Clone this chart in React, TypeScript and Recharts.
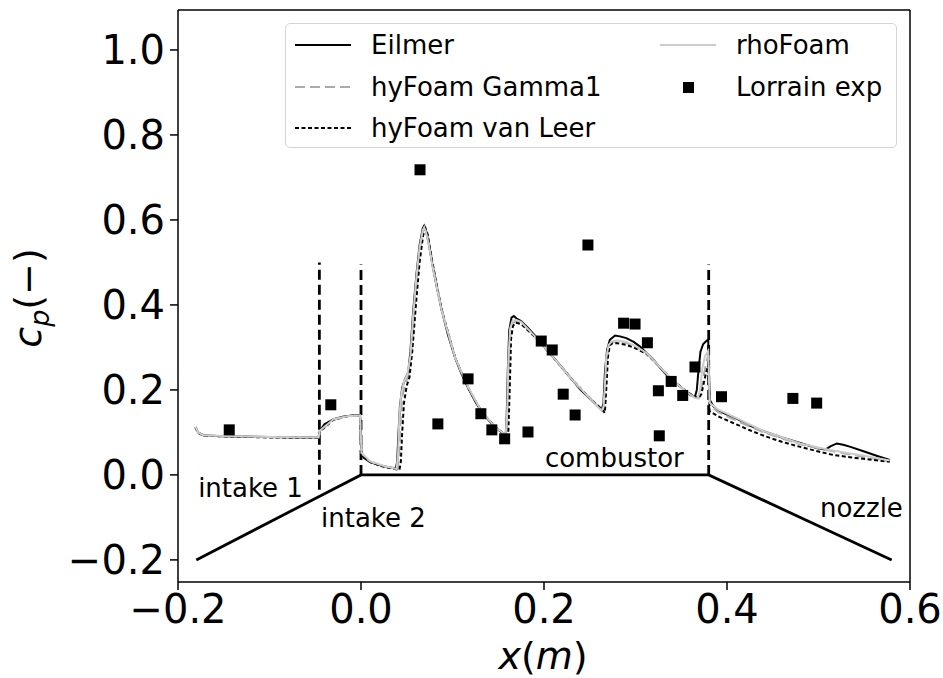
import React from 'react';
import { ComposedChart, Line, Scatter, XAxis, YAxis, ReferenceLine } from 'recharts';

// ---------------- data ----------------
const eilmerX = [-0.181, -0.178, -0.172, -0.15, -0.1, -0.06, -0.0465, -0.045, -0.04, -0.03, -0.02, -0.01, -0.001, 0.0005, 0.003, 0.01, 0.02, 0.03, 0.038, 0.0395, 0.041, 0.0425, 0.045, 0.048, 0.0515, 0.054, 0.057, 0.0605, 0.064, 0.0675, 0.069, 0.071, 0.074, 0.078, 0.083, 0.088, 0.095, 0.103, 0.11, 0.117, 0.125, 0.132, 0.14, 0.147, 0.154, 0.158, 0.159, 0.1605, 0.162, 0.1645, 0.167, 0.17, 0.175, 0.182, 0.19, 0.2, 0.21, 0.22, 0.23, 0.24, 0.25, 0.258, 0.263, 0.265, 0.2667, 0.269, 0.272, 0.2776, 0.283, 0.29, 0.298, 0.305, 0.312, 0.32, 0.327, 0.334, 0.341, 0.349, 0.355, 0.36, 0.365, 0.367, 0.369, 0.371, 0.374, 0.378, 0.3795, 0.3805, 0.3815, 0.385, 0.39, 0.4, 0.41, 0.425, 0.44, 0.46, 0.48, 0.5, 0.508, 0.513, 0.52, 0.527, 0.535, 0.55, 0.565, 0.578];
const eilmerY = [0.112, 0.1, 0.093, 0.091, 0.089, 0.088, 0.088, 0.103, 0.119, 0.131, 0.137, 0.14, 0.141, 0.05, 0.04, 0.03, 0.023, 0.018, 0.015, 0.03, 0.1, 0.16, 0.205, 0.225, 0.24, 0.29, 0.385, 0.47, 0.54, 0.58, 0.586, 0.575, 0.545, 0.495, 0.44, 0.39, 0.33, 0.275, 0.237, 0.205, 0.172, 0.148, 0.127, 0.112, 0.1, 0.094, 0.12, 0.25, 0.34, 0.37, 0.374, 0.368, 0.362, 0.347, 0.328, 0.302, 0.277, 0.252, 0.226, 0.2, 0.18, 0.163, 0.152, 0.17, 0.245, 0.295, 0.318, 0.328, 0.326, 0.322, 0.313, 0.302, 0.287, 0.27, 0.252, 0.235, 0.222, 0.208, 0.197, 0.188, 0.184, 0.2, 0.25, 0.29, 0.308, 0.316, 0.318, 0.22, 0.175, 0.162, 0.152, 0.142, 0.133, 0.116, 0.103, 0.088, 0.075, 0.062, 0.06, 0.067, 0.074, 0.071, 0.066, 0.055, 0.044, 0.035];

const gammaX = [-0.181, -0.178, -0.172, -0.1, -0.0465, -0.045, -0.03, -0.015, -0.001, 0.0005, 0.01, 0.025, 0.04, 0.0415, 0.043, 0.045, 0.048, 0.0515, 0.055, 0.058, 0.0615, 0.065, 0.068, 0.0695, 0.0715, 0.075, 0.079, 0.088, 0.103, 0.117, 0.132, 0.147, 0.158, 0.16, 0.1615, 0.1635, 0.166, 0.17, 0.175, 0.19, 0.21, 0.23, 0.25, 0.263, 0.2655, 0.267, 0.2685, 0.271, 0.275, 0.28, 0.29, 0.3, 0.312, 0.327, 0.341, 0.355, 0.365, 0.369, 0.372, 0.375, 0.378, 0.3795, 0.381, 0.39, 0.41, 0.44, 0.48, 0.51, 0.53, 0.55, 0.578];
const gammaY = [0.112, 0.1, 0.093, 0.089, 0.088, 0.103, 0.13, 0.138, 0.14, 0.051, 0.031, 0.02, 0.013, 0.04, 0.12, 0.18, 0.215, 0.232, 0.285, 0.38, 0.47, 0.54, 0.577, 0.583, 0.572, 0.54, 0.49, 0.388, 0.275, 0.206, 0.148, 0.112, 0.094, 0.12, 0.25, 0.34, 0.358, 0.362, 0.358, 0.326, 0.277, 0.226, 0.18, 0.152, 0.158, 0.2, 0.27, 0.303, 0.312, 0.314, 0.311, 0.302, 0.286, 0.253, 0.222, 0.197, 0.182, 0.18, 0.2, 0.24, 0.27, 0.28, 0.165, 0.148, 0.128, 0.1, 0.072, 0.058, 0.05, 0.042, 0.032];

const vanLeerX = [-0.181, -0.178, -0.172, -0.1, -0.0465, -0.045, -0.03, -0.015, -0.001, 0.0005, 0.01, 0.025, 0.042, 0.0435, 0.045, 0.047, 0.05, 0.053, 0.056, 0.06, 0.064, 0.068, 0.0705, 0.073, 0.078, 0.088, 0.103, 0.117, 0.132, 0.147, 0.158, 0.161, 0.1625, 0.164, 0.166, 0.169, 0.175, 0.19, 0.21, 0.23, 0.25, 0.263, 0.2665, 0.268, 0.27, 0.272, 0.275, 0.28, 0.29, 0.3, 0.312, 0.327, 0.341, 0.355, 0.365, 0.369, 0.372, 0.376, 0.3795, 0.381, 0.39, 0.407, 0.425, 0.443, 0.46, 0.48, 0.5, 0.516, 0.54, 0.56, 0.578];
const vanLeerY = [0.112, 0.099, 0.092, 0.088, 0.087, 0.102, 0.13, 0.138, 0.14, 0.05, 0.03, 0.019, 0.012, 0.03, 0.1, 0.17, 0.21, 0.23, 0.29, 0.4, 0.5, 0.565, 0.58, 0.565, 0.5, 0.39, 0.275, 0.205, 0.148, 0.112, 0.093, 0.1, 0.2, 0.32, 0.35, 0.358, 0.355, 0.325, 0.277, 0.226, 0.18, 0.155, 0.146, 0.2, 0.28, 0.305, 0.31, 0.31, 0.306, 0.298, 0.285, 0.253, 0.222, 0.197, 0.184, 0.18, 0.19, 0.23, 0.26, 0.15, 0.138, 0.122, 0.105, 0.09, 0.078, 0.066, 0.055, 0.047, 0.04, 0.035, 0.031];

const rhoX = [-0.181, -0.178, -0.172, -0.1, -0.0465, -0.045, -0.03, -0.015, -0.001, 0.0005, 0.01, 0.025, 0.039, 0.0405, 0.042, 0.044, 0.047, 0.0505, 0.054, 0.057, 0.0605, 0.064, 0.0675, 0.069, 0.071, 0.074, 0.078, 0.088, 0.103, 0.117, 0.132, 0.147, 0.158, 0.1595, 0.161, 0.163, 0.1655, 0.169, 0.175, 0.19, 0.21, 0.23, 0.25, 0.263, 0.265, 0.2665, 0.268, 0.2705, 0.274, 0.28, 0.29, 0.3, 0.312, 0.327, 0.341, 0.355, 0.365, 0.368, 0.3705, 0.373, 0.376, 0.3795, 0.381, 0.39, 0.41, 0.44, 0.48, 0.51, 0.53, 0.55, 0.578];
const rhoY = [0.113, 0.1, 0.093, 0.089, 0.088, 0.104, 0.131, 0.138, 0.14, 0.052, 0.032, 0.021, 0.014, 0.05, 0.14, 0.19, 0.22, 0.235, 0.28, 0.375, 0.465, 0.535, 0.575, 0.582, 0.572, 0.543, 0.493, 0.388, 0.275, 0.207, 0.148, 0.112, 0.094, 0.13, 0.27, 0.345, 0.362, 0.365, 0.36, 0.326, 0.277, 0.226, 0.18, 0.151, 0.16, 0.21, 0.275, 0.305, 0.314, 0.316, 0.313, 0.303, 0.287, 0.253, 0.222, 0.197, 0.181, 0.18, 0.2, 0.25, 0.28, 0.292, 0.17, 0.154, 0.134, 0.103, 0.074, 0.06, 0.052, 0.045, 0.034];

const expX = [-0.144, -0.033, 0.0645, 0.084, 0.117, 0.131, 0.143, 0.157, 0.1825, 0.197, 0.209, 0.221, 0.234, 0.248, 0.287, 0.2995, 0.313, 0.365, 0.339, 0.325, 0.3516, 0.326, 0.394, 0.472, 0.498];
const expY = [0.106, 0.165, 0.718, 0.12, 0.226, 0.144, 0.106, 0.085, 0.101, 0.315, 0.294, 0.19, 0.141, 0.541, 0.357, 0.355, 0.311, 0.254, 0.22, 0.198, 0.187, 0.092, 0.184, 0.18, 0.169];

const geomX = [-0.18, 0, 0.38, 0.58];
const geomY = [-0.2, 0, 0, -0.2];

const divider1X = [-0.0455, -0.0455];
const divider1Y = [-0.035, 0.5];
const divider2X = [0, 0];
const divider2Y = [0, 0.495];
const divider3X = [0.38, 0.38];
const divider3Y = [0, 0.495];

const regionLabels = ['intake 1', 'intake 2', 'combustor', 'nozzle'];
const regionLabelX = [-0.178, -0.0437, 0.201, 0.5016];
const regionLabelY = [-0.052, -0.122, 0.0195, -0.098];

const xTicks = [-0.2, 0, 0.2, 0.4, 0.6];
const yTicks = [-0.2, 0, 0.2, 0.4, 0.6, 0.8, 1.0];
const xDomain = [-0.2, 0.6];
const yDomain = [-0.252, 1.094];

// ---------------- helpers ----------------
const zip = (xs: number[], ys: number[]) => xs.map((x, i) => ({ x, y: ys[i] }));
const eilmer = zip(eilmerX, eilmerY);
const gamma = zip(gammaX, gammaY);
const vanLeer = zip(vanLeerX, vanLeerY);
const rho = zip(rhoX, rhoY);
const exp = zip(expX, expY);
const geom = zip(geomX, geomY);
const div1 = zip(divider1X, divider1Y);
const div2 = zip(divider2X, divider2Y);
const div3 = zip(divider3X, divider3Y);
const labels = regionLabels.map((t, i) => ({ x: regionLabelX[i], y: regionLabelY[i], t }));

const FONT = 'DejaVu Sans';
const fmt = (v: number) => (v < -1e-9 ? '\u2212' : '') + Math.abs(v).toFixed(1);

const XTick = (p: any) => (
  <text x={p.x} y={p.y} dy={31} textAnchor="middle" fontSize={40} fontFamily={FONT} fill="#000">
    {fmt(p.payload.value)}
  </text>
);
const YTick = (p: any) => (
  <text x={p.x} y={p.y} dy={14} textAnchor="end" fontSize={40} fontFamily={FONT} fill="#000">
    {fmt(p.payload.value)}
  </text>
);

const Square = (p: any) => <rect x={p.cx - 5.5} y={p.cy - 5.5} width={11} height={11} fill="#000" />;
const LabelText = (p: any) => (
  <text x={p.cx} y={p.cy} fontSize={26} fontFamily={FONT} fill="#000">
    {p.payload.t}
  </text>
);

const LegendLine = ({ stroke, dash, width }: { stroke: string; dash?: string; width: number }) => (
  <svg width={58} height={10} style={{ display: 'block' }}>
    <line x1={1} y1={5} x2={57} y2={5} stroke={stroke} strokeWidth={width} strokeDasharray={dash} />
  </svg>
);

const legendItems = [
  { name: 'Eilmer', left: 8, top: 22, kind: 'line', stroke: '#000', width: 2 },
  { name: 'hyFoam Gamma1', left: 8, top: 64, kind: 'line', stroke: '#aaaaaa', width: 2, dash: '10 5' },
  { name: 'hyFoam van Leer', left: 8, top: 105, kind: 'line', stroke: '#000', width: 2, dash: '4 2.5' },
  { name: 'rhoFoam', left: 373, top: 22, kind: 'line', stroke: '#cccccc', width: 2 },
  { name: 'Lorrain exp', left: 373, top: 64, kind: 'marker', stroke: '#000', width: 0 },
];

const LegendBox = () => (
  <div
    style={{
      position: 'absolute',
      left: 285,
      top: 23,
      width: 612,
      height: 125,
      boxSizing: 'border-box',
      border: '1.5px solid #d4d4d4',
      borderRadius: 5,
      background: 'rgba(255,255,255,0.85)',
      fontFamily: FONT,
      fontSize: 26,
      color: '#000',
    }}
  >
    {legendItems.map((it) => (
      <div key={it.name} style={{ position: 'absolute', left: it.left, top: it.top - 17, height: 32, display: 'flex', alignItems: 'center', whiteSpace: 'nowrap' }}>
        <div style={{ width: 58, height: 10, display: 'flex', alignItems: 'center', justifyContent: 'center' }}>
          {it.kind === 'line' ? (
            <LegendLine stroke={it.stroke} dash={(it as any).dash} width={it.width} />
          ) : (
            <div style={{ width: 11, height: 11, background: '#000' }} />
          )}
        </div>
        <span style={{ marginLeft: 19, lineHeight: '32px' }}>{it.name}</span>
      </div>
    ))}
  </div>
);

const YLabel = () => (
  <text transform="translate(41,298) rotate(-90)" textAnchor="middle" fontSize={38} fontFamily={FONT} fill="#000">
    <tspan fontStyle="italic">c</tspan>
    <tspan fontStyle="italic" fontSize={27} dy={8}>p</tspan>
    <tspan dy={-8}>(−)</tspan>
  </text>
);
const XLabel = () => (
  <text x={543} y={669} textAnchor="middle" fontSize={38} fontFamily={FONT} fill="#000">
    <tspan fontStyle="italic">x</tspan>
    <tspan>(</tspan>
    <tspan fontStyle="italic">m</tspan>
    <tspan>)</tspan>
  </text>
);

export default function App() {
  return (
    <div style={{ position: 'absolute', left: 0, top: 0, width: 943, height: 678, background: '#fff' }}>
      <ComposedChart width={943} height={678} margin={{ top: 10, right: 33, bottom: 0, left: 0 }}>
        <XAxis
          type="number"
          dataKey="x"
          domain={xDomain}
          ticks={xTicks}
          allowDataOverflow
          height={96}
          tick={<XTick />}
          tickSize={8}
          tickLine={{ stroke: '#000', strokeWidth: 1.5 }}
          axisLine={{ stroke: '#000', strokeWidth: 1.5 }}
          label={<XLabel />}
        />
        <YAxis
          type="number"
          dataKey="y"
          domain={yDomain}
          ticks={yTicks}
          allowDataOverflow
          width={178}
          tick={<YTick />}
          tickSize={8}
          tickMargin={5}
          tickLine={{ stroke: '#000', strokeWidth: 1.5 }}
          axisLine={{ stroke: '#000', strokeWidth: 1.5 }}
          label={<YLabel />}
        />
        <ReferenceLine x={0.6} stroke="#000" strokeWidth={1.5} />
        <ReferenceLine y={1.094} stroke="#000" strokeWidth={1.5} />

        <Line data={geom} dataKey="y" stroke="#000" strokeWidth={2.8} dot={false} isAnimationActive={false} />
        <Line data={div1} dataKey="y" stroke="#000" strokeWidth={2.8} strokeDasharray="10 5" dot={false} isAnimationActive={false} />
        <Line data={div2} dataKey="y" stroke="#000" strokeWidth={2.8} strokeDasharray="10 5" dot={false} isAnimationActive={false} />
        <Line data={div3} dataKey="y" stroke="#000" strokeWidth={2.8} strokeDasharray="10 5" dot={false} isAnimationActive={false} />

        <Line data={eilmer} dataKey="y" name="Eilmer" stroke="#000" strokeWidth={2} dot={false} isAnimationActive={false} />
        <Line data={gamma} dataKey="y" name="hyFoam Gamma1" stroke="#aaaaaa" strokeWidth={2} strokeDasharray="10 5" dot={false} isAnimationActive={false} />
        <Line data={vanLeer} dataKey="y" name="hyFoam van Leer" stroke="#000" strokeWidth={2} strokeDasharray="4 2.5" dot={false} isAnimationActive={false} />
        <Line data={rho} dataKey="y" name="rhoFoam" stroke="#cccccc" strokeWidth={2} dot={false} isAnimationActive={false} />
        <Scatter data={exp} dataKey="y" name="Lorrain exp" shape={<Square />} isAnimationActive={false} />
        <Scatter data={labels} dataKey="y" shape={<LabelText />} isAnimationActive={false} />
      </ComposedChart>
      <LegendBox />
    </div>
  );
}
